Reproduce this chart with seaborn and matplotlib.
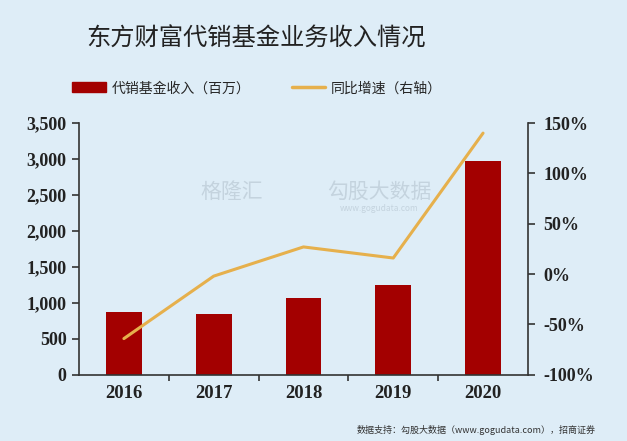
import matplotlib
matplotlib.use('Agg')
import matplotlib.pyplot as plt
import matplotlib.patches as mpatches
import matplotlib.lines as mlines
from matplotlib.ticker import FuncFormatter, FixedLocator
import seaborn as sns
import pandas as pd

years = ['2016', '2017', '2018', '2019', '2020']
revenue = [880, 845, 1065, 1245, 2970]      # 代销基金收入（百万）
growth = [-64, -2, 27, 16, 140]             # 同比增速（%，右轴）

bg = '#deedf7'
bar_color = '#a30000'
line_color = '#e6b04c'
cjk = ['Noto Sans CJK SC', 'DejaVu Sans']
serif = 'Liberation Serif'

sns.set_theme(style='white')
plt.rcParams['font.family'] = cjk

df = pd.DataFrame({'year': years, 'revenue': revenue, 'growth': growth})

fig = plt.figure(figsize=(6.27, 4.41), dpi=100, facecolor=bg)
ax = fig.add_axes([0.126, 0.150, 0.716, 0.571], facecolor=bg)

sns.barplot(data=df, x='year', y='revenue', color=bar_color, width=0.4,
            saturation=1, linewidth=0, ax=ax)
ax.set_xlim(-0.5, 4.5)
ax.set_ylim(0, 3500)
ax.set_yticks(range(0, 3501, 500))
ax.yaxis.set_major_formatter(FuncFormatter(lambda v, p: f'{int(v):,}'))
ax.set_xlabel('')
ax.set_ylabel('')

ax2 = ax.twinx()
sns.lineplot(x=list(range(len(years))), y=df['growth'], color=line_color,
             linewidth=2.2, ax=ax2)
ax2.set_ylim(-100, 150)
ax2.set_yticks(range(-100, 151, 50))
ax2.yaxis.set_major_formatter(FuncFormatter(lambda v, p: f'{int(v)}%'))
ax2.set_ylabel('')

for a in (ax, ax2):
    a.spines['top'].set_visible(False)
    for s in ['left', 'right', 'bottom']:
        a.spines[s].set_color('#333333')
        a.spines[s].set_linewidth(1.2)
ax.spines['right'].set_visible(False)
ax2.spines['left'].set_visible(False)
ax2.spines['bottom'].set_visible(False)

ax.tick_params(axis='y', direction='out', length=5, width=1.2, color='#333333',
               left=True, labelsize=13, labelcolor='#222222', pad=4)
ax2.tick_params(axis='y', direction='out', length=5, width=1.2, color='#333333',
                right=True, labelsize=13, labelcolor='#222222', pad=6)
ax.tick_params(axis='x', which='major', length=0, labelsize=13.5,
               labelcolor='#222222', pad=7)
ax.xaxis.set_minor_locator(FixedLocator([0.5, 1.5, 2.5, 3.5]))
ax.tick_params(axis='x', which='minor', direction='out', length=4, width=1.2,
               color='#333333', bottom=True)
for lab in ax.get_xticklabels() + ax.get_yticklabels() + ax2.get_yticklabels():
    lab.set_fontfamily(serif)
    lab.set_fontweight('bold')

# watermark
fig.text(0.37, 0.565, '格隆汇', fontsize=15, color='#c4d3de', ha='center',
         va='center', family=cjk)
fig.text(0.605, 0.565, '勾股大数据', fontsize=15, color='#c4d3de',
         ha='center', va='center', family=cjk)
fig.text(0.605, 0.527, 'www.gogudata.com', fontsize=6, color='#c4d3de',
         ha='center', va='center')

fig.text(0.408, 0.913, '东方财富代销基金业务收入情况', fontsize=17.5,
         color='#222222', ha='center', va='center', family=cjk,
         fontweight='medium')

handles = [mpatches.Patch(color=bar_color, label='代销基金收入（百万）'),
           mlines.Line2D([], [], color=line_color, linewidth=2.5,
                         label='同比增速（右轴）')]
fig.legend(handles=handles, loc='center', bbox_to_anchor=(0.41, 0.80), ncol=2,
           frameon=False, handlelength=2.4, handleheight=0.7,
           columnspacing=3, handletextpad=0.4, prop={'family': cjk, 'size': 10})

fig.text(0.76, 0.013, '数据支持：勾股大数据（www.gogudata.com），招商证券',
         fontsize=6.5, color='#333333', ha='center', va='bottom', family=cjk)

fig.savefig('out.png', dpi=100, facecolor=bg)
